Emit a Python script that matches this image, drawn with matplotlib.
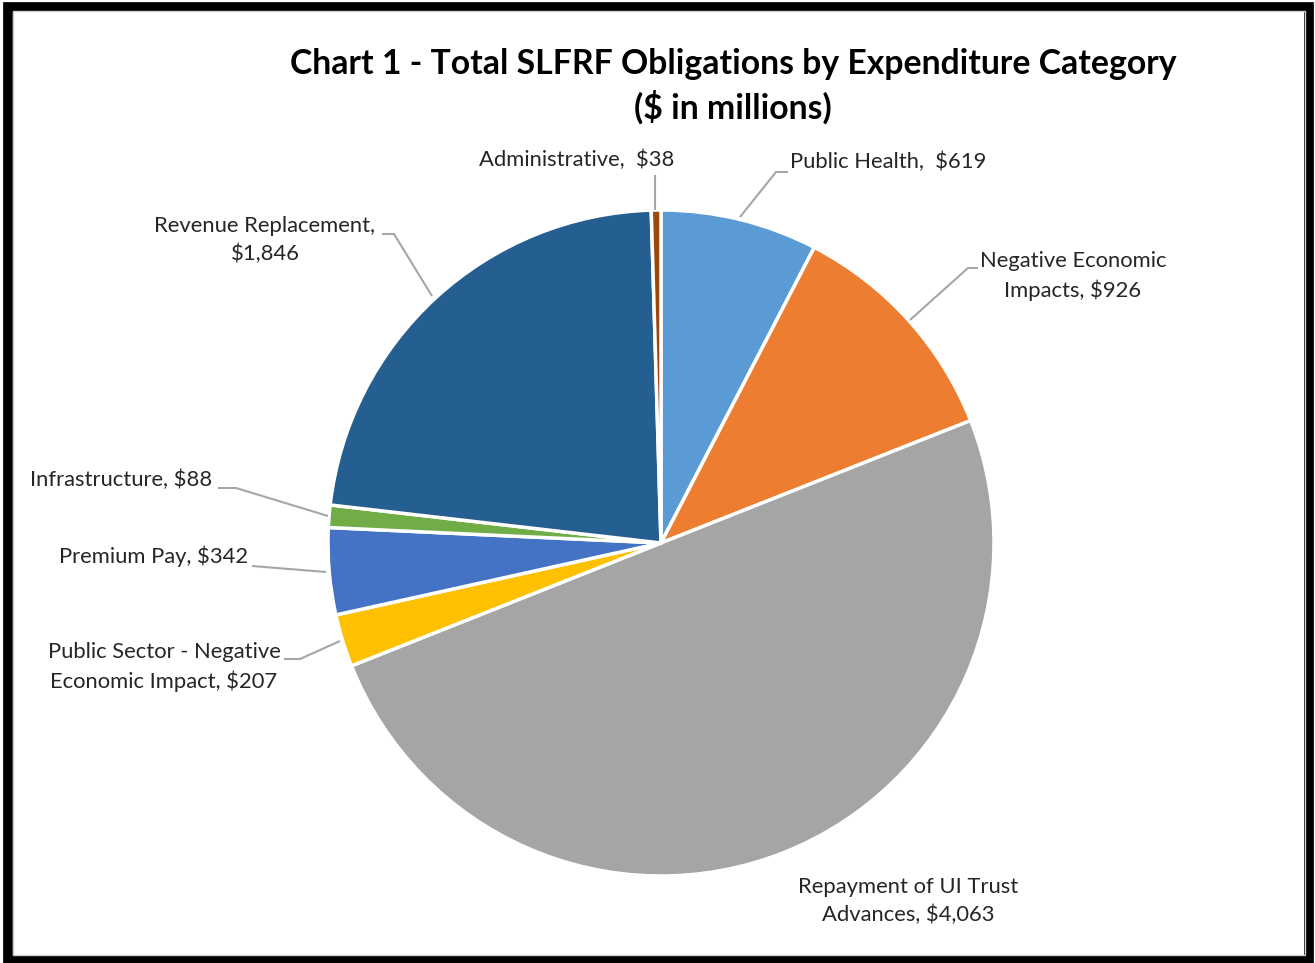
import matplotlib
matplotlib.use("Agg")
import matplotlib.pyplot as plt
from matplotlib.patches import Rectangle

categories = ["Public Health", "Negative Economic Impacts", "Repayment of UI Trust Advances",
              "Public Sector - Negative Economic Impact", "Premium Pay", "Infrastructure",
              "Revenue Replacement", "Administrative"]
values = [619, 926, 4063, 207, 342, 88, 1846, 38]
colors = ["#5B9BD5", "#ED7D31", "#A5A5A5", "#FFC000", "#4472C4", "#70AD47", "#255E91", "#9E480E"]
label_texts = ["Public Health,  $619", "Negative Economic\nImpacts, $926",
               "Repayment of UI Trust\nAdvances, $4,063", "Public Sector - Negative\nEconomic Impact, $207",
               "Premium Pay, $342", "Infrastructure, $88", "Revenue Replacement,\n$1,846",
               "Administrative,  $38"]
title = "Chart 1 - Total SLFRF Obligations by Expenditure Category\n($ in millions)"

W, H = 1315, 963
fig = plt.figure(figsize=(W / 100, H / 100), dpi=100)
ax = fig.add_axes([0, 0, 1, 1])
ax.set_xlim(0, W)
ax.set_ylim(0, H)
ax.axis("off")

def Y(y):
    return H - y

cx, cy, r = 661, 543, 333
ax.pie(values, colors=colors, startangle=90, counterclock=False, center=(cx, Y(cy)), radius=r,
       wedgeprops=dict(edgecolor="white", linewidth=2.5), frame=True)
ax.set_xlim(0, W)
ax.set_ylim(0, H)
ax.set_aspect("auto")
ax.axis("off")

font = "Lato"
fs = 15.8
tc = "#262626"
lc = "#A6A6A6"

# label positions (pixels): x, y, ha, leader line points
specs = [
    (790, 162, "left", [(788, 172), (776, 172), (740, 217)]),
    (1073, 276, "center", [(978, 268), (968, 268), (910, 320)]),
    (908, 901, "center", None),
    (164, 667, "center", [(284, 659), (300, 659), (340, 641)]),
    (248, 556, "right", [(252, 566), (326, 572)]),
    (212, 480, "right", [(218, 488), (236, 488), (328, 516)]),
    (265, 240, "center", [(382, 234), (394, 234), (432, 296)]),
    (577, 160, "center", [(655, 175), (655, 210)]),
]
for txt, (x, y, ha, pts) in zip(label_texts, specs):
    ax.text(x, Y(y), txt, ha=ha, va="center", fontsize=fs, family=font, color=tc,
            linespacing=1.45, multialignment="center" if ha == "center" else ha)
    if pts:
        ax.plot([p[0] for p in pts], [Y(p[1]) for p in pts], color=lc, lw=1.5, solid_capstyle="butt")

ax.text(733, Y(86), title, ha="center", va="center", fontsize=24.3, family=font,
        fontweight="bold", color="black", linespacing=1.36)

# frame
ax.add_patch(Rectangle((8.5, Y(959.5)), 1301, 953, fill=False, edgecolor="black", lw=7,
                       clip_on=False))
ax.add_patch(Rectangle((13, Y(955)), 1292, 944, fill=False, edgecolor="#D0D0D0", lw=1))

fig.savefig("out.png", dpi=100, facecolor="white")
